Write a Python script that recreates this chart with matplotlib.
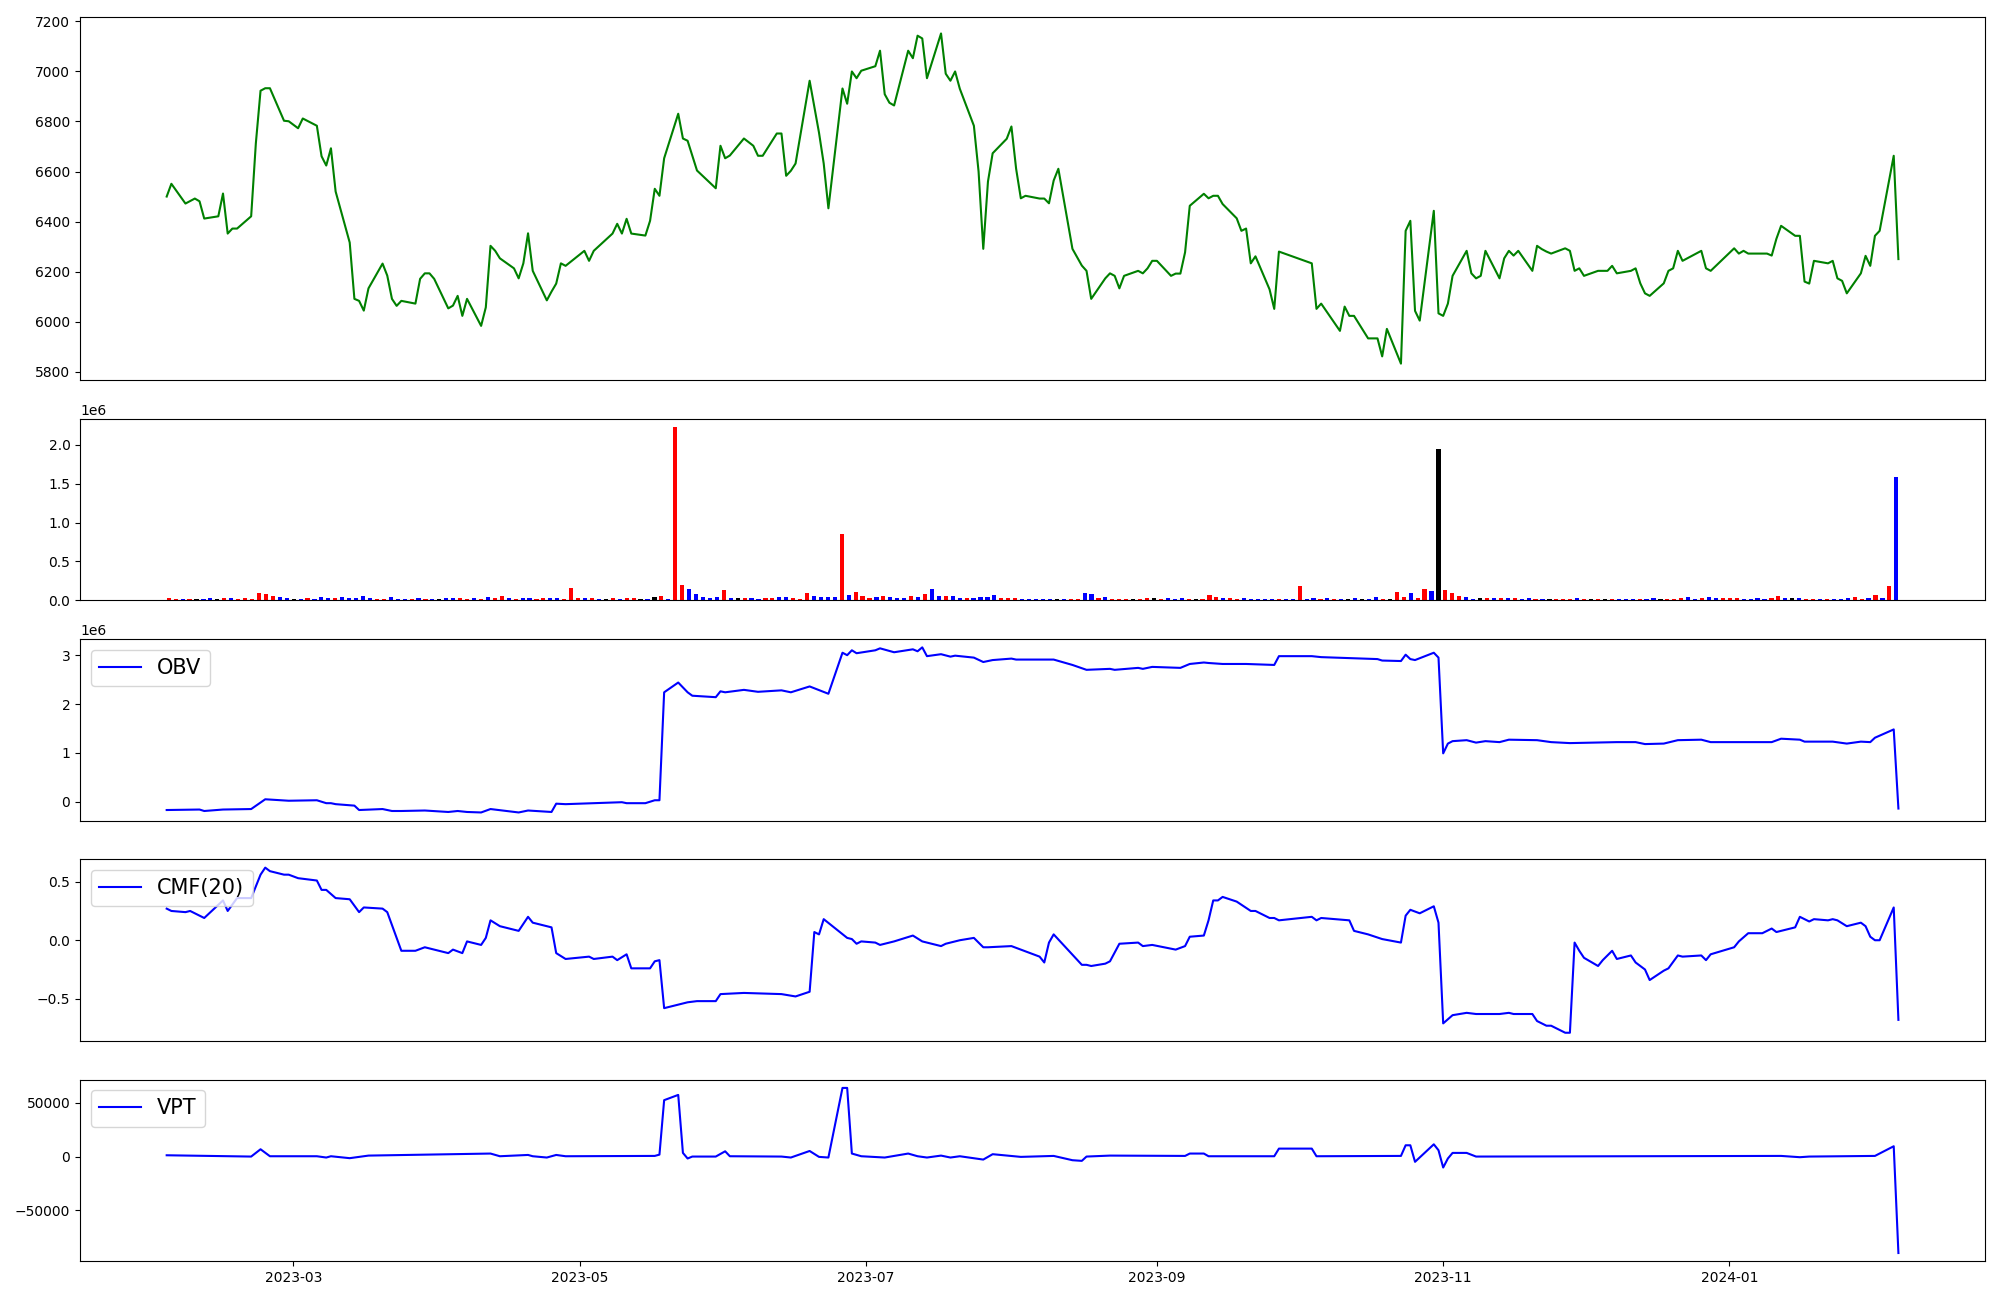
import numpy as np
import pandas as pd
import matplotlib
matplotlib.use("Agg")
import matplotlib.pyplot as plt
import matplotlib.dates as mdates

# trading calendar (KRX holidays removed)
holidays = ["2023-03-01", "2023-05-01", "2023-05-05", "2023-05-29", "2023-06-06",
            "2023-08-15", "2023-09-28", "2023-09-29", "2023-10-02", "2023-10-03",
            "2023-10-09", "2023-12-25", "2023-12-29", "2024-01-01"]
dates = pd.bdate_range("2023-02-02", "2024-02-06", freq="C", holidays=holidays)

close = [
    # 2023-02
    6500, 6551, 6472, 6482, 6492, 6481, 6412, 6421, 6512, 6352, 6372, 6372, 6421, 6713, 6923, 6933, 6933, 6803, 6801,
    # 2023-03
    6773, 6812, 6783, 6661, 6624, 6693, 6520, 6316, 6091, 6083, 6044, 6133, 6232, 6184, 6091, 6063, 6083, 6072, 6171,
    6193, 6193, 6171,
    # 2023-04
    6053, 6064, 6103, 6023, 6091, 5983, 6057, 6303, 6283, 6253, 6213, 6173, 6233, 6353, 6203, 6085, 6120, 6152, 6233, 6223,
    # 2023-05
    6283, 6243, 6283, 6352, 6391, 6352, 6411, 6352, 6344, 6403, 6531, 6503, 6653, 6831, 6732, 6723, 6664, 6604, 6533, 6703,
    # 2023-06
    6653, 6664, 6732, 6703, 6663, 6663, 6752, 6752, 6583, 6603, 6632, 6963, 6860, 6755, 6632, 6453, 6932, 6871, 7000,
    6973, 7003,
    # 2023-07
    7021, 7083, 6909, 6875, 6864, 7083, 7053, 7143, 7132, 6973, 7152, 6991, 6963, 7000, 6931, 6783, 6600, 6291, 6560,
    6673, 6731,
    # 2023-08
    6780, 6611, 6493, 6503, 6492, 6492, 6473, 6564, 6611, 6291, 6224, 6203, 6091, 6173, 6193, 6183, 6133, 6183, 6203,
    6193, 6213, 6243,
    # 2023-09
    6243, 6183, 6192, 6192, 6277, 6463, 6511, 6493, 6503, 6503, 6470, 6413, 6363, 6372, 6233, 6261, 6129, 6051, 6280,
    # 2023-10
    6233, 6051, 6072, 5963, 6060, 6023, 6023, 5933, 5933, 5933, 5861, 5971, 5832, 6363, 6403, 6043, 6004, 6443, 6033,
    # 2023-11
    6023, 6072, 6183, 6283, 6193, 6173, 6183, 6283, 6173, 6253, 6283, 6264, 6283, 6203, 6303, 6290, 6280, 6272, 6293,
    6283, 6203, 6213,
    # 2023-12
    6183, 6203, 6203, 6203, 6223, 6193, 6203, 6213, 6153, 6113, 6103, 6153, 6203, 6213, 6283, 6243, 6283, 6213, 6203,
    # 2024-01
    6293, 6272, 6283, 6272, 6272, 6272, 6264, 6331, 6383, 6343, 6343, 6160, 6152, 6243, 6233, 6243, 6173, 6163, 6113,
    6193, 6263, 6223,
    # 2024-02
    6343, 6363, 6663, 6250,
]

# volume in thousands, one bar per trading day
volume_k = [
    30, 17, 17, 17, 17, 17, 30, 17, 30, 30,
    17, 30, 17, 94, 80, 56, 43, 30, 17, 17,
    30, 17, 43, 30, 30, 43, 30, 30, 56, 30,
    17, 17, 43, 17, 17, 17, 30, 17, 17, 17,
    30, 30, 30, 17, 30, 17, 43, 30, 56, 30,
    17, 30, 30, 17, 30, 30, 30, 17, 158, 30,
    30, 30, 17, 17, 30, 17, 30, 30, 17, 17,
    43, 56, 17, 2220, 197, 145, 80, 43, 30, 43,
    132, 30, 30, 30, 30, 17, 30, 30, 43, 43,
    30, 17, 94, 56, 43, 43, 43, 850, 68, 107,
    56, 30, 43, 56, 43, 30, 30, 56, 43, 80,
    145, 56, 56, 56, 30, 30, 30, 43, 43, 68,
    30, 30, 30, 17, 17, 17, 17, 17, 17, 17,
    17, 17, 94, 80, 30, 43, 17, 17, 17, 17,
    17, 30, 30, 17, 30, 17, 30, 17, 17, 17,
    68, 43, 30, 30, 17, 30, 17, 17, 17, 17,
    17, 17, 17, 184, 17, 30,
    17, 30, 17, 17, 17, 30, 17, 17, 43, 17,
    17, 107, 43, 94, 30, 145, 120, 1950, 132, 94,
    56, 43, 17, 30, 30, 30, 30, 30, 30, 17,
    30, 17, 17, 17, 17, 17, 17, 30, 17, 17,
    17, 17, 17, 17, 17, 17, 17, 17, 30, 17,
    17, 17, 30, 43, 17, 30, 43, 30, 30, 30,
    30, 17, 17, 30, 17, 30, 56, 30, 30, 30,
    17, 17, 17, 17, 17, 17, 30, 43, 17, 30,
    68, 30, 184, 1590,
]
# r = red, b = blue, k = black
volume_color_codes = (
    "rrbrkbbkrb" "rrrrrrbbkb" "rbbbrbbbbb" "rrbbbrbrbk" "bbrrbrbrrb" "rbbrrbbrrr" "brbkrbrrkb" "krbrrbbbbb"
    "rbkrbbrrbb" "rrrbbbbrbr" "rrbrbbbrbr" "bbrbbrbbbb" "rrrbbbbbkb" "rrbbrbrrrk" "rrkrbbbrkr" "rrbrrbbbbb" "rbbrbb"
    "rbrbkbkbbr" "krrbrrbkrr" "rbbkrbrbrb" "brbkrrrbrk" "rkrbbbrbbk" "rrrbbrbbrr" "rbbbbrrbkb" "rrbrbbbrrb" "rbrb"
)

# OBV in millions
obv_points = [
    ("2023-02-02", -0.17), ("2023-02-09", -0.16), ("2023-02-10", -0.19), ("2023-02-14", -0.16),
    ("2023-02-20", -0.15), ("2023-02-23", 0.05), ("2023-02-28", 0.02), ("2023-03-06", 0.03),
    ("2023-03-08", -0.03), ("2023-03-09", -0.03), ("2023-03-10", -0.05), ("2023-03-14", -0.08),
    ("2023-03-15", -0.17), ("2023-03-20", -0.15), ("2023-03-22", -0.19), ("2023-03-24", -0.19),
    ("2023-03-29", -0.18), ("2023-04-03", -0.21), ("2023-04-05", -0.19), ("2023-04-07", -0.21),
    ("2023-04-10", -0.22), ("2023-04-12", -0.15), ("2023-04-18", -0.22), ("2023-04-20", -0.18),
    ("2023-04-25", -0.21), ("2023-04-26", -0.04), ("2023-04-28", -0.05), ("2023-05-04", -0.03),
    ("2023-05-10", -0.01), ("2023-05-11", -0.03), ("2023-05-15", -0.03), ("2023-05-17", 0.03),
    ("2023-05-18", 0.03), ("2023-05-19", 2.24), ("2023-05-22", 2.44), ("2023-05-24", 2.24),
    ("2023-05-25", 2.17), ("2023-05-30", 2.14), ("2023-05-31", 2.26), ("2023-06-01", 2.24),
    ("2023-06-05", 2.29), ("2023-06-08", 2.25), ("2023-06-13", 2.28), ("2023-06-15", 2.24),
    ("2023-06-19", 2.36), ("2023-06-23", 2.21), ("2023-06-26", 3.05), ("2023-06-27", 3.00),
    ("2023-06-28", 3.10), ("2023-06-29", 3.04), ("2023-07-03", 3.10), ("2023-07-04", 3.14),
    ("2023-07-07", 3.06), ("2023-07-11", 3.12), ("2023-07-12", 3.08), ("2023-07-13", 3.16),
    ("2023-07-14", 2.98), ("2023-07-17", 3.02), ("2023-07-19", 2.97), ("2023-07-20", 2.99),
    ("2023-07-24", 2.95), ("2023-07-26", 2.86), ("2023-07-28", 2.90), ("2023-08-01", 2.93),
    ("2023-08-02", 2.91), ("2023-08-07", 2.91), ("2023-08-10", 2.91), ("2023-08-14", 2.80),
    ("2023-08-17", 2.70), ("2023-08-22", 2.72), ("2023-08-23", 2.70), ("2023-08-28", 2.74),
    ("2023-08-29", 2.72), ("2023-08-31", 2.76), ("2023-09-06", 2.74), ("2023-09-08", 2.82),
    ("2023-09-11", 2.85), ("2023-09-12", 2.84), ("2023-09-15", 2.82), ("2023-09-20", 2.82),
    ("2023-09-26", 2.80), ("2023-09-27", 2.98), ("2023-10-04", 2.98), ("2023-10-06", 2.96),
    ("2023-10-12", 2.94), ("2023-10-18", 2.92), ("2023-10-19", 2.89), ("2023-10-23", 2.88),
    ("2023-10-24", 3.01), ("2023-10-25", 2.92), ("2023-10-26", 2.90), ("2023-10-30", 3.05),
    ("2023-10-31", 2.95), ("2023-11-01", 0.99), ("2023-11-02", 1.19), ("2023-11-03", 1.24),
    ("2023-11-06", 1.26), ("2023-11-08", 1.21), ("2023-11-10", 1.24), ("2023-11-13", 1.22),
    ("2023-11-15", 1.27), ("2023-11-21", 1.26), ("2023-11-24", 1.22), ("2023-11-28", 1.20),
    ("2023-12-08", 1.22), ("2023-12-12", 1.22), ("2023-12-14", 1.18), ("2023-12-18", 1.19),
    ("2023-12-21", 1.26), ("2023-12-26", 1.27), ("2023-12-28", 1.22), ("2024-01-10", 1.22),
    ("2024-01-12", 1.29), ("2024-01-16", 1.27), ("2024-01-17", 1.23), ("2024-01-23", 1.23),
    ("2024-01-26", 1.19), ("2024-01-29", 1.23), ("2024-01-31", 1.22), ("2024-02-01", 1.31),
    ("2024-02-05", 1.48), ("2024-02-06", -0.14),
]

cmf_points = [
    ("2023-02-02", 0.27), ("2023-02-03", 0.25), ("2023-02-06", 0.24), ("2023-02-07", 0.25),
    ("2023-02-08", 0.23), ("2023-02-10", 0.19), ("2023-02-14", 0.34), ("2023-02-15", 0.25),
    ("2023-02-17", 0.36), ("2023-02-20", 0.36), ("2023-02-22", 0.56), ("2023-02-23", 0.62),
    ("2023-02-24", 0.59), ("2023-02-27", 0.56), ("2023-02-28", 0.56), ("2023-03-02", 0.53),
    ("2023-03-06", 0.51), ("2023-03-07", 0.43), ("2023-03-08", 0.43), ("2023-03-10", 0.36),
    ("2023-03-13", 0.35), ("2023-03-15", 0.24), ("2023-03-16", 0.28), ("2023-03-20", 0.27),
    ("2023-03-21", 0.24), ("2023-03-24", -0.09), ("2023-03-27", -0.09), ("2023-03-29", -0.06),
    ("2023-04-03", -0.11), ("2023-04-04", -0.08), ("2023-04-06", -0.11), ("2023-04-07", -0.01),
    ("2023-04-10", -0.04), ("2023-04-11", 0.02), ("2023-04-12", 0.17), ("2023-04-14", 0.12),
    ("2023-04-18", 0.08), ("2023-04-20", 0.20), ("2023-04-21", 0.15), ("2023-04-25", 0.11),
    ("2023-04-26", -0.11), ("2023-04-28", -0.16), ("2023-05-03", -0.14), ("2023-05-04", -0.16),
    ("2023-05-08", -0.14), ("2023-05-09", -0.17), ("2023-05-11", -0.12), ("2023-05-12", -0.24),
    ("2023-05-16", -0.24), ("2023-05-17", -0.18), ("2023-05-18", -0.17), ("2023-05-19", -0.58),
    ("2023-05-22", -0.55), ("2023-05-24", -0.53), ("2023-05-26", -0.52), ("2023-05-30", -0.52),
    ("2023-05-31", -0.46), ("2023-06-05", -0.45), ("2023-06-13", -0.46), ("2023-06-16", -0.48),
    ("2023-06-19", -0.44), ("2023-06-20", 0.07), ("2023-06-21", 0.05), ("2023-06-22", 0.18),
    ("2023-06-27", 0.02), ("2023-06-28", 0.01), ("2023-06-29", -0.03), ("2023-06-30", -0.01),
    ("2023-07-03", -0.02), ("2023-07-04", -0.04), ("2023-07-07", -0.01), ("2023-07-11", 0.04),
    ("2023-07-13", -0.01), ("2023-07-17", -0.05), ("2023-07-18", -0.03), ("2023-07-21", 0.00),
    ("2023-07-24", 0.02), ("2023-07-26", -0.06), ("2023-07-27", -0.06), ("2023-08-01", -0.05),
    ("2023-08-07", -0.14), ("2023-08-08", -0.19), ("2023-08-09", -0.02), ("2023-08-10", 0.05),
    ("2023-08-16", -0.21), ("2023-08-17", -0.21), ("2023-08-18", -0.22), ("2023-08-21", -0.20),
    ("2023-08-22", -0.18), ("2023-08-24", -0.03), ("2023-08-28", -0.02), ("2023-08-29", -0.05),
    ("2023-08-31", -0.04), ("2023-09-05", -0.08), ("2023-09-07", -0.05), ("2023-09-08", 0.03),
    ("2023-09-11", 0.04), ("2023-09-12", 0.17), ("2023-09-13", 0.34), ("2023-09-14", 0.34),
    ("2023-09-15", 0.37), ("2023-09-18", 0.33), ("2023-09-21", 0.25), ("2023-09-22", 0.25),
    ("2023-09-25", 0.19), ("2023-09-26", 0.19), ("2023-09-27", 0.17), ("2023-10-04", 0.20),
    ("2023-10-05", 0.17), ("2023-10-06", 0.19), ("2023-10-12", 0.17), ("2023-10-13", 0.08),
    ("2023-10-16", 0.05), ("2023-10-19", 0.01), ("2023-10-23", -0.02), ("2023-10-24", 0.21),
    ("2023-10-25", 0.26), ("2023-10-27", 0.23), ("2023-10-30", 0.29), ("2023-10-31", 0.15),
    ("2023-11-01", -0.71), ("2023-11-03", -0.64), ("2023-11-06", -0.62), ("2023-11-08", -0.63),
    ("2023-11-13", -0.63), ("2023-11-15", -0.62), ("2023-11-16", -0.63), ("2023-11-20", -0.63),
    ("2023-11-21", -0.69), ("2023-11-23", -0.73), ("2023-11-24", -0.73), ("2023-11-27", -0.79),
    ("2023-11-28", -0.79), ("2023-11-29", -0.02), ("2023-11-30", -0.09), ("2023-12-01", -0.15),
    ("2023-12-04", -0.22), ("2023-12-05", -0.17), ("2023-12-07", -0.09), ("2023-12-08", -0.16),
    ("2023-12-11", -0.13), ("2023-12-12", -0.19), ("2023-12-14", -0.25), ("2023-12-15", -0.34),
    ("2023-12-18", -0.26), ("2023-12-19", -0.24), ("2023-12-21", -0.13), ("2023-12-22", -0.14),
    ("2023-12-26", -0.13), ("2023-12-27", -0.17), ("2023-12-28", -0.12), ("2024-01-02", -0.06),
    ("2024-01-03", -0.01), ("2024-01-05", 0.06), ("2024-01-08", 0.06), ("2024-01-09", 0.08),
    ("2024-01-10", 0.10), ("2024-01-11", 0.07), ("2024-01-15", 0.11), ("2024-01-16", 0.20),
    ("2024-01-18", 0.16), ("2024-01-19", 0.18), ("2024-01-22", 0.17), ("2024-01-23", 0.18),
    ("2024-01-24", 0.17), ("2024-01-26", 0.12), ("2024-01-29", 0.15), ("2024-01-30", 0.12),
    ("2024-01-31", 0.03), ("2024-02-01", 0.00), ("2024-02-02", 0.00), ("2024-02-05", 0.28),
    ("2024-02-06", -0.68),
]

vpt_points = [
    ("2023-02-02", 1200), ("2023-02-20", 0), ("2023-02-22", 6800), ("2023-02-24", 300),
    ("2023-03-06", 300), ("2023-03-08", -900), ("2023-03-09", 300), ("2023-03-13", -1500),
    ("2023-03-17", 900), ("2023-04-12", 2800), ("2023-04-14", 300), ("2023-04-20", 1500),
    ("2023-04-21", 300), ("2023-04-24", -900), ("2023-04-26", 1500), ("2023-04-28", 300),
    ("2023-05-17", 600), ("2023-05-18", 1800), ("2023-05-19", 52500), ("2023-05-22", 57400),
    ("2023-05-23", 3400), ("2023-05-24", -1800), ("2023-05-25", 0), ("2023-05-30", 0),
    ("2023-06-01", 4900), ("2023-06-02", 300), ("2023-06-13", 0), ("2023-06-15", -900),
    ("2023-06-19", 5200), ("2023-06-21", -300), ("2023-06-23", -900), ("2023-06-26", 63900),
    ("2023-06-27", 63900), ("2023-06-28", 2800), ("2023-06-30", 300), ("2023-07-05", -900),
    ("2023-07-10", 2800), ("2023-07-12", 300), ("2023-07-14", -900), ("2023-07-17", 900),
    ("2023-07-19", -900), ("2023-07-21", 300), ("2023-07-26", -2800), ("2023-07-28", 2200),
    ("2023-08-03", -300), ("2023-08-10", 600), ("2023-08-14", -3400), ("2023-08-16", -4000),
    ("2023-08-17", 0), ("2023-08-22", 900), ("2023-09-07", 600), ("2023-09-08", 2800),
    ("2023-09-11", 2800), ("2023-09-12", 300), ("2023-09-26", 300), ("2023-09-27", 7400),
    ("2023-10-04", 7400), ("2023-10-05", 300), ("2023-10-23", 600), ("2023-10-24", 10500),
    ("2023-10-25", 10500), ("2023-10-26", -4900), ("2023-10-30", 11400), ("2023-10-31", 5900),
    ("2023-11-01", -10200), ("2023-11-02", -1800), ("2023-11-03", 3400), ("2023-11-06", 3400),
    ("2023-11-08", 0), ("2024-01-12", 600), ("2024-01-16", -600), ("2024-01-18", 0),
    ("2024-02-01", 600), ("2024-02-05", 9600), ("2024-02-06", -89800),
]


def split_points(points):
    d, v = zip(*points)
    return pd.to_datetime(list(d)), np.array(v, dtype=float)


def main():
    volume = np.array(volume_k) * 1000
    color_map = {"r": "red", "b": "blue", "k": "black"}
    bar_colors = [color_map[c] for c in volume_color_codes]

    obv_d, obv_v = split_points(obv_points)
    cmf_d, cmf_v = split_points(cmf_points)
    vpt_d, vpt_v = split_points(vpt_points)

    fig, axes = plt.subplots(5, 1, figsize=(20, 13),
                             gridspec_kw={"height_ratios": [2, 1, 1, 1, 1]})
    ax_price, ax_vol, ax_obv, ax_cmf, ax_vpt = axes

    ax_price.plot(dates, close, color="green")

    # volume bars are drawn against their row number, not the date
    ax_vol.bar(np.arange(len(volume)), volume, color=bar_colors, width=0.6)

    ax_obv.plot(obv_d, obv_v * 1e6, color="blue", label="OBV")
    ax_cmf.plot(cmf_d, cmf_v, color="blue", label="CMF(20)")
    ax_vpt.plot(vpt_d, vpt_v, color="blue", label="VPT")

    for ax in (ax_obv, ax_cmf, ax_vpt):
        ax.legend(loc="upper left", fontsize=15)

    xlim = ax_price.get_xlim()
    for ax in (ax_obv, ax_cmf, ax_vpt):
        ax.set_xlim(xlim)

    for ax in (ax_price, ax_vol, ax_obv, ax_cmf):
        ax.set_xticks([])

    ax_vpt.xaxis.set_major_locator(mdates.MonthLocator(bymonth=[1, 3, 5, 7, 9, 11]))
    ax_vpt.xaxis.set_major_formatter(mdates.DateFormatter("%Y-%m"))

    plt.tight_layout()
    plt.savefig("out.png", dpi=100)


if __name__ == "__main__":
    main()
